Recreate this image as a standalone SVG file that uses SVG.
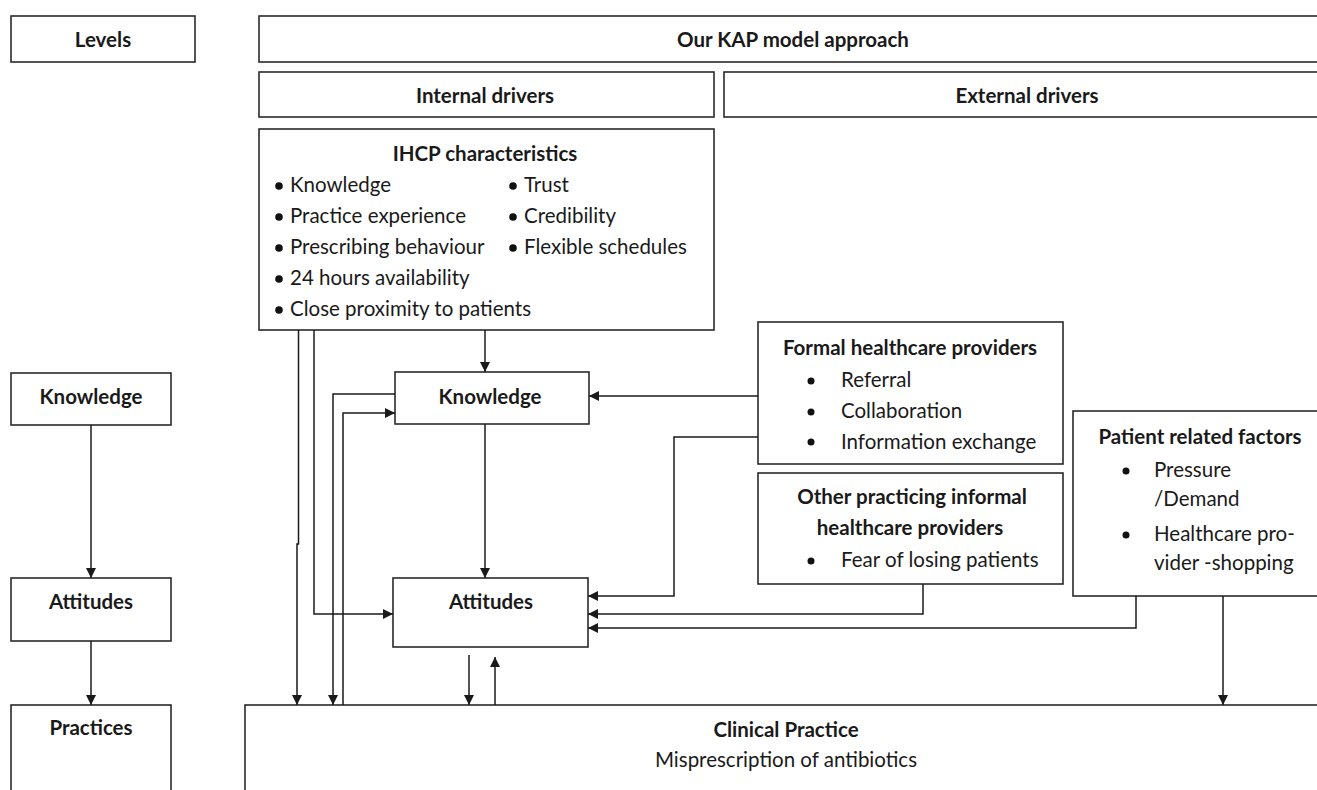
<svg xmlns="http://www.w3.org/2000/svg" width="1317" height="790" viewBox="0 0 1317 790">
<defs>
<marker id="arr" viewBox="0 0 10 10" refX="10" refY="5" markerWidth="10" markerHeight="10" markerUnits="userSpaceOnUse" orient="auto">
<path d="M0,0 L10,5 L0,10 z" fill="#1a1a1a"/>
</marker>
<style>
rect{fill:#fff;stroke:#2a2a2a;stroke-width:1.6}
text{font-family:Lato,"Open Sans","Liberation Sans",sans-serif;font-size:20.5px;fill:#1a1a1a}
.b{font-weight:bold}
.c{text-anchor:middle}
.ln{fill:none;stroke:#1a1a1a;stroke-width:1.5}
.dot{fill:#111}
</style>
</defs>
<rect x="0" y="0" width="1317" height="790" style="fill:#fff;stroke:none"/>
<g id="levels"><rect x="11" y="16" width="184" height="46"/><text class="b c" x="103" y="47">Levels</text></g>
<g id="kap"><rect x="259" y="16" width="1080" height="46"/><text class="b c" x="793" y="47">Our KAP model approach</text></g>
<g id="internal"><rect x="259" y="72" width="455" height="45"/><text class="b c" x="485" y="103">Internal drivers</text></g>
<g id="external"><rect x="724" y="72" width="615" height="45"/><text class="b c" x="1027" y="103">External drivers</text></g>
<g id="ihcp"><rect x="259" y="129" width="455" height="201"/>
<text class="b c" x="485" y="161">IHCP characteristics</text>
<circle class="dot" cx="279" cy="186" r="3.8"/><text x="290" y="192">Knowledge</text>
<circle class="dot" cx="279" cy="217" r="3.8"/><text x="290" y="223">Practice experience</text>
<circle class="dot" cx="279" cy="248" r="3.8"/><text x="290" y="254">Prescribing behaviour</text>
<circle class="dot" cx="279" cy="279" r="3.8"/><text x="290" y="285">24 hours availability</text>
<circle class="dot" cx="279" cy="310" r="3.8"/><text x="290" y="316">Close proximity to patients</text>
<circle class="dot" cx="513" cy="186" r="3.8"/><text x="524" y="192">Trust</text>
<circle class="dot" cx="513" cy="217" r="3.8"/><text x="524" y="223">Credibility</text>
<circle class="dot" cx="513" cy="248" r="3.8"/><text x="524" y="254">Flexible schedules</text>
</g>
<g id="lev-knowledge"><rect x="11" y="373" width="160" height="52"/><text class="b c" x="91" y="404">Knowledge</text></g>
<g id="lev-attitudes"><rect x="11" y="578" width="160" height="63"/><text class="b c" x="91" y="609">Attitudes</text></g>
<g id="lev-practices"><rect x="11" y="705" width="160" height="100"/><text class="b c" x="91" y="735">Practices</text></g>
<g id="knowledge"><rect x="395" y="372" width="194" height="52"/><text class="b c" x="490" y="404">Knowledge</text></g>
<g id="attitudes"><rect x="393" y="578" width="195" height="69"/><text class="b c" x="491" y="609">Attitudes</text></g>
<g id="formal"><rect x="758" y="322" width="305" height="142"/>
<text class="b c" x="910" y="355">Formal healthcare providers</text>
<circle class="dot" cx="811" cy="381" r="3.5"/><text x="841" y="387">Referral</text>
<circle class="dot" cx="811" cy="412" r="3.5"/><text x="841" y="418">Collaboration</text>
<circle class="dot" cx="811" cy="442" r="3.5"/><text x="841" y="449">Information exchange</text>
</g>
<g id="other"><rect x="758" y="473" width="305" height="111"/>
<text class="b c" x="912" y="504">Other practicing informal</text>
<text class="b c" x="910" y="535">healthcare providers</text>
<circle class="dot" cx="811" cy="561" r="3.5"/><text x="841" y="567">Fear of losing patients</text>
</g>
<g id="patient"><rect x="1073" y="411" width="266" height="185"/>
<text class="b c" x="1200" y="444">Patient related factors</text>
<circle class="dot" cx="1126" cy="471" r="3.5"/><text x="1154" y="477">Pressure</text>
<text x="1154" y="506">/Demand</text>
<circle class="dot" cx="1126" cy="535" r="3.5"/><text x="1154" y="541">Healthcare pro-</text>
<text x="1154" y="570">vider -shopping</text>
</g>
<g id="clinical"><rect x="245" y="705" width="1094" height="100"/>
<text class="b c" x="786" y="737">Clinical Practice</text>
<text class="c" x="786" y="767">Misprescription of antibiotics</text>
</g>
<g id="connectors">
<path class="ln" marker-end="url(#arr)" d="M91,425 V578"/>
<path class="ln" marker-end="url(#arr)" d="M91,641 V705"/>
<path class="ln" marker-end="url(#arr)" d="M485,330 V372"/>
<path class="ln" marker-end="url(#arr)" d="M485,424 V578"/>
<path class="ln" marker-end="url(#arr)" d="M298.5,330 V544 H297 V705"/>
<path class="ln" marker-end="url(#arr)" d="M314,330 V614 H393"/>
<path class="ln" marker-end="url(#arr)" d="M395,394 H333 V705"/>
<path class="ln" marker-end="url(#arr)" d="M343,705 V413 H395"/>
<path class="ln" marker-end="url(#arr)" d="M469,655 V705"/>
<path class="ln" marker-end="url(#arr)" d="M495,705 V657"/>
<path class="ln" marker-end="url(#arr)" d="M758,396 H589"/>
<path class="ln" marker-end="url(#arr)" d="M758,437 H674 V596 H588"/>
<path class="ln" marker-end="url(#arr)" d="M923,584 V614 H588"/>
<path class="ln" marker-end="url(#arr)" d="M1136,596 V628 H588"/>
<path class="ln" marker-end="url(#arr)" d="M1223,596 V705"/>
</g>
</svg>
